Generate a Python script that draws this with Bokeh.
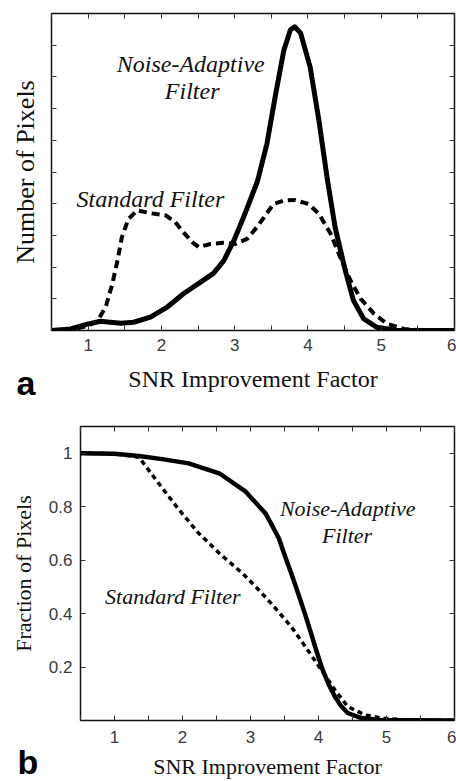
from bokeh.plotting import figure
from bokeh.models import (Range1d, LinearAxis, FixedTicker, Label, NumeralTickFormatter,
                          CustomJSTickFormatter)
from bokeh.core.properties import value
from bokeh.embed import file_html
from bokeh.resources import INLINE

# ---------------- data ----------------
# Panel a: distribution of SNR improvement factor (number of pixels, arbitrary units)
a_adaptive_x = [0.5, 0.76, 0.99, 1.17, 1.3, 1.45, 1.62, 1.85, 2.08, 2.3, 2.53, 2.71, 2.85, 2.99,
                3.12, 3.21, 3.31, 3.44, 3.56, 3.67, 3.76, 3.82, 3.9, 4.03, 4.15, 4.26, 4.37,
                4.51, 4.62, 4.76, 4.94, 5.22, 6.0]
a_adaptive_y = [0.0, 0.05, 0.2, 0.29, 0.26, 0.23, 0.26, 0.42, 0.74, 1.16, 1.52, 1.8, 2.2, 2.84,
                3.57, 4.1, 4.7, 5.89, 7.47, 8.83, 9.48, 9.58, 9.38, 8.31, 6.62, 4.84, 3.26,
                1.89, 0.95, 0.37, 0.10, 0.0, 0.0]
a_standard_x = [0.5, 0.8, 1.0, 1.12, 1.24, 1.33, 1.40, 1.46, 1.55, 1.67, 1.85, 2.06, 2.19, 2.30,
                2.42, 2.51, 2.67, 2.85, 3.01, 3.17, 3.30, 3.40, 3.53, 3.67, 3.81, 4.01, 4.15,
                4.31, 4.44, 4.58, 4.72, 4.90, 5.08, 5.31, 5.5, 6.0]
a_standard_y = [0.0, 0.04, 0.15, 0.28, 0.74, 1.47, 2.2, 2.94, 3.52, 3.79, 3.70, 3.63, 3.42, 3.1,
                2.79, 2.63, 2.73, 2.77, 2.73, 2.89, 3.25, 3.57, 3.99, 4.1, 4.12, 3.99, 3.68,
                3.05, 2.31, 1.58, 1.0, 0.53, 0.21, 0.05, 0.01, 0.0]

# Panel b: cumulative fraction of pixels
b_adaptive_x = [0.5, 1.0, 1.36, 1.7, 2.09, 2.54, 2.93, 3.22, 3.30, 3.42, 3.50, 3.60, 3.70, 3.80,
                3.89, 3.97, 4.06, 4.15, 4.24, 4.33, 4.43, 4.63, 4.9, 6.0]
b_adaptive_y = [1.0, 0.998, 0.99, 0.978, 0.962, 0.925, 0.856, 0.775, 0.738, 0.68, 0.62, 0.55,
                0.476, 0.40, 0.327, 0.26, 0.19, 0.135, 0.09, 0.055, 0.028, 0.009, 0.002, 0.0]
b_standard_x = [0.5, 1.0, 1.36, 1.65, 1.95, 2.24, 2.54, 2.88, 3.08, 3.30, 3.60, 3.84, 4.04, 4.24,
                4.43, 4.68, 4.92, 5.3, 6.0]
b_standard_y = [1.0, 0.998, 0.985, 0.887, 0.788, 0.70, 0.626, 0.551, 0.50, 0.439, 0.351, 0.264,
                0.19, 0.115, 0.052, 0.021, 0.009, 0.002, 0.0]

x_ticks = [1, 2, 3, 4, 5, 6]
x_minor_ticks = [0.5, 1.5, 2.5, 3.5, 4.5, 5.5]
a_y_ticks = [1, 2, 3, 4, 5, 6, 7, 8, 9]
b_y_ticks = [0.2, 0.4, 0.6, 0.8, 1.0]

x_label = "SNR Improvement Factor"
a_y_label = "Number of Pixels"
b_y_label = "Fraction of Pixels"
adaptive_name = ["Noise-Adaptive", "Filter"]
standard_name = "Standard Filter"
panel_letters = ["a", "b"]

SANS = "Liberation Sans"
SERIF = "Liberation Serif"
INK = "#111111"
PAGE_H = 781


def make_fig(width, height, y_end, left, right, top, bottom):
    p = figure(width=width, height=height, x_range=Range1d(0.5, 6.0), y_range=Range1d(0, y_end),
               output_backend="svg", toolbar_location=None,
               min_border_left=left, min_border_right=right,
               min_border_top=top, min_border_bottom=bottom)
    p.grid.visible = False
    p.outline_line_color = INK
    p.outline_line_width = 1.5
    p.background_fill_color = "white"
    p.border_fill_color = "white"
    return p


def blank():
    return CustomJSTickFormatter(code="return '';")


def style_axis(ax, ticker, show_labels, size="17px"):
    ax.ticker = ticker
    ax.axis_line_color = None
    ax.major_tick_in = 5
    ax.major_tick_out = 0
    ax.minor_tick_in = 5
    ax.minor_tick_out = 0
    ax.major_tick_line_color = "#333333"
    ax.minor_tick_line_color = "#333333"
    ax.major_label_text_font = SANS
    ax.major_label_text_color = "#3a3a3a"
    ax.major_label_text_font_size = size
    if not show_labels:
        ax.formatter = blank()
        ax.major_label_standoff = 0
    ax.axis_label_text_font = SERIF
    ax.axis_label_text_font_style = "normal"
    ax.axis_label_text_color = INK


def add_frame_axes(p, xticker, yticker):
    top = LinearAxis()
    style_axis(top, xticker, False)
    p.add_layout(top, "above")
    right = LinearAxis()
    style_axis(right, yticker, False)
    p.add_layout(right, "right")


def letter_fig(letter, top, left, width, height, tx, ty):
    # small transparent plot laid over the page; its flow height is cancelled by margins
    mt = top - PAGE_H
    mb = -(mt + height)
    f = figure(width=width, height=height, x_range=Range1d(0, width), y_range=Range1d(0, height),
               output_backend="svg", toolbar_location=None, x_axis_type=None, y_axis_type=None,
               min_border=0, margin=(mt, 0, mb, left))
    f.grid.visible = False
    f.outline_line_color = None
    f.background_fill_color = None
    f.border_fill_color = None
    f.text(x=[tx], y=[ty], text=[letter], text_font=value(SANS), text_font_style="bold",
           text_font_size="34px", text_color="black", text_align="left",
           text_baseline="alphabetic")
    return f


# ---------------- panel a ----------------
pa = make_fig(456, 400, 10, 51, 2, 13, 70)
xt_a = FixedTicker(ticks=x_ticks, minor_ticks=x_minor_ticks)
yt_a = FixedTicker(ticks=a_y_ticks, minor_ticks=[])
style_axis(pa.xaxis[0], xt_a, True, "17px")
style_axis(pa.yaxis[0], yt_a, False)
pa.xaxis[0].major_label_standoff = 8
pa.xaxis[0].axis_label = x_label
pa.xaxis[0].axis_label_text_font_size = "24px"
pa.xaxis[0].axis_label_standoff = 12
pa.yaxis[0].axis_label = a_y_label
pa.yaxis[0].axis_label_text_font_size = "26px"
pa.yaxis[0].axis_label_standoff = 12
add_frame_axes(pa, xt_a, yt_a)

pa.line(a_standard_x, a_standard_y, line_color="black", line_width=4, line_dash="8 5")
pa.line(a_adaptive_x, a_adaptive_y, line_color="black", line_width=5, line_join="round")

for txt, xx, yy in [(adaptive_name[0], 2.40, 8.42), (adaptive_name[1], 2.42, 7.57),
                    (standard_name, 1.85, 4.15)]:
    pa.add_layout(Label(x=xx, y=yy, text=txt, text_font=SERIF, text_font_style="italic",
                        text_font_size="24px", text_color=INK, text_align="center",
                        text_baseline="alphabetic"))

# ---------------- panel b ----------------
pb = make_fig(456, 381, 1.1, 80, 2, 26, 60)
xt_b = FixedTicker(ticks=x_ticks, minor_ticks=x_minor_ticks)
yt_b = FixedTicker(ticks=b_y_ticks, minor_ticks=[])
style_axis(pb.xaxis[0], xt_b, True, "17px")
style_axis(pb.yaxis[0], yt_b, True, "17px")
pb.yaxis[0].formatter = NumeralTickFormatter(format="0.[0]")
pb.xaxis[0].major_label_standoff = 10
pb.yaxis[0].major_label_standoff = 8
pb.xaxis[0].axis_label = x_label
pb.xaxis[0].axis_label_text_font_size = "22px"
pb.xaxis[0].axis_label_standoff = 8
pb.yaxis[0].axis_label = b_y_label
pb.yaxis[0].axis_label_text_font_size = "22px"
pb.yaxis[0].axis_label_standoff = 10
add_frame_axes(pb, xt_b, yt_b)

pb.line(b_standard_x, b_standard_y, line_color="black", line_width=3.5, line_dash="5 4")
pb.line(b_adaptive_x, b_adaptive_y, line_color="black", line_width=4.5, line_join="round")

for txt, xx, yy in [(adaptive_name[0], 4.43, 0.794), (adaptive_name[1], 4.42, 0.694),
                    (standard_name, 1.857, 0.464)]:
    pb.add_layout(Label(x=xx, y=yy, text=txt, text_font=SERIF, text_font_style="italic",
                        text_font_size="22px", text_color=INK, text_align="center",
                        text_baseline="alphabetic"))

# panel letters, drawn last so that they sit on top of both plots
la = letter_fig(panel_letters[0], 355, 10, 40, 50, 6, 23)
lb = letter_fig(panel_letters[1], 731, 10, 40, 50, 7, 20)

# separate roots, so that the two plot frames are not aligned with each other
open("out.html", "w").write(file_html([pa, pb, la, lb], INLINE))
